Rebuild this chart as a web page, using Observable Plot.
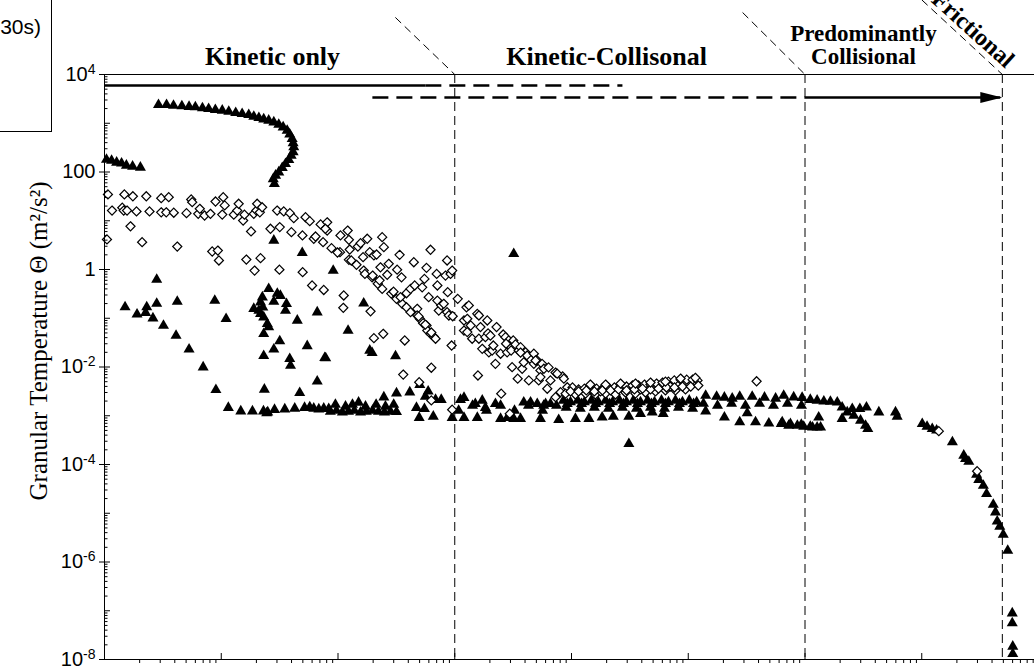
<!DOCTYPE html>
<html>
<head>
<meta charset="utf-8">
<script src="https://cdn.jsdelivr.net/npm/d3@7"></script>
<script src="https://cdn.jsdelivr.net/npm/@observablehq/plot@0.6"></script>
<style>
  html, body { margin: 0; padding: 0; background: #fff; overflow: hidden; }
  #wrap { position: relative; width: 1034px; height: 667px; overflow: hidden; }
  #legendBox { position: absolute; left: -20px; top: -20px; width: 72px; height: 152px;
    box-sizing: border-box; border: 1.5px solid #000; background: #fff; }
  #legendBox span { position: absolute; right: 10px; top: 34px; font: 21px "Liberation Sans", Arial, sans-serif; }
</style>
</head>
<body>
<div id="wrap">
  <div id="legendBox"><span>30s)</span></div>
</div>
<script>
// Granular temperature against solids volume fraction, two symbol series.
// Each entry: [solids volume fraction, granular temperature (m^2/s^2)]

// filled triangles
const triArc = [
  [2.9e-8,2390],[3.4e-8,2390],[3.9e-8,2310],[4.6e-8,2240],[5.3e-8,2180],[6.0e-8,2140],[6.9e-8,2040],
  [7.8e-8,1980],[8.9e-8,1890],[1.02e-7,1830],[1.16e-7,1740],[1.33e-7,1640],[1.51e-7,1560],[1.72e-7,1490],
  [1.90e-7,1370],[2.10e-7,1290],[2.31e-7,1210],[2.55e-7,1140],[2.82e-7,1050],[3.11e-7,940],[3.39e-7,830],
  [3.67e-7,710],[3.86e-7,590],[4.05e-7,480],[4.13e-7,390],[4.18e-7,323],[4.13e-7,255],[3.97e-7,218],
  [3.79e-7,178],[3.55e-7,147],[3.33e-7,122],[3.11e-7,99],[2.92e-7,85],[2.79e-7,72],[2.85e-7,57]
];
const triLeft = [
  [1.04e-8,180],[1.15e-8,172],[1.27e-8,157],[1.40e-8,150],[1.54e-8,136],[1.74e-8,130],[2.03e-8,124]
];
const triScatter = [
  [1.5e-8,0.17],[1.9e-8,0.12],[2.3e-8,0.17],[2.25e-8,0.13],[2.6e-8,0.10],[2.8e-8,0.62],[2.8e-8,0.20],
  [3.2e-8,0.071],[4.2e-8,0.22],[4.1e-8,0.044],[5.3e-8,0.023],[7e-8,0.0099],[9e-8,3.4e-3],[8.8e-8,0.23],
  [1.1e-7,0.097],
  [2.25e-7,0.27],[2.17e-7,0.213],[2.27e-7,0.168],[2.1e-7,0.144],[2.17e-7,0.124],[2.31e-7,0.105],
  [2.48e-7,0.077],[2.55e-7,0.066],[2.31e-7,0.048],[1.9e-7,0.157],[2.55e-7,0.40],[3.02e-7,0.32],
  [3.21e-7,0.29],[2.82e-7,0.22],[3.62e-7,0.198],[3.55e-7,0.144],[4.48e-7,0.090],[3.17e-7,0.034],
  [2.82e-7,0.023],[2.31e-7,0.017],[3.86e-7,0.0147],[3.92e-7,0.0107],[2.34e-7,3.46e-3],[4.7e-7,2.96e-3],
  [5.45e-7,0.027],[6.64e-7,0.133],[7.7e-7,0.0154],[6.64e-7,5.1e-3],[2.82e-7,3.94],[4.94e-7,2.2],
  [9.1e-7,0.95],[1.66e-6,0.203],[1.22e-6,0.056],[7.85e-7,0.0152],[1.87e-6,0.0218],[1.96e-6,0.0196],
  [3.11e-6,0.0167],[3.2e-5,2.1],
  [2.47e-6,2.4e-3],[3.17e-6,2.9e-3],[4.12e-6,3.04e-3],[5.02e-6,4.3e-3],[5.92e-6,3.18e-3],[5.6e-6,2.48e-3],
  [6.85e-6,2.13e-3],[7.66e-6,2.13e-3],[4.96e-6,9.1e-4],[6.55e-6,9.66e-4],[4.7e-6,1.46e-3],[5.5e-6,1.39e-3],
  [9.5e-6,9.1e-4],[1.2e-5,9.1e-4],[1.56e-5,9.1e-4],[1.12e-5,2.13e-3],[1.2e-5,2.34e-3],[1.5e-5,1.76e-3],
  [1.72e-5,2.06e-3],[1.83e-5,1.46e-3],[2.23e-5,1.76e-3],[2.47e-5,8.7e-4],[2.82e-5,9.1e-4],[3.2e-5,8.7e-4],
  [3.66e-5,8.7e-4],[3.9e-5,1.89e-3],[4.46e-5,1.89e-3],[5.09e-5,1.76e-3],[5.42e-5,8.7e-4],[5.78e-5,1.62e-3],
  [6.6e-5,1.76e-3],[3.1e-4,2.66e-4]
];
const triFloor = [
  [1.15e-7,1.46e-3],[1.47e-7,1.24e-3],[1.85e-7,1.24e-3],[2.3e-7,1.24e-3],[2.45e-7,1.13e-3],[2.5e-7,1.18e-3],
  [2.86e-7,1.33e-3],[3.5e-7,1.36e-3],[4.26e-7,1.41e-3],[5.17e-7,1.46e-3],[5.73e-7,1.5e-3],[6.2e-7,1.41e-3],
  [6.85e-7,1.36e-3],[7.55e-7,1.41e-3],[8.33e-7,1.39e-3],
  [8.6e-7,1.22e-3],[9.7e-7,1.28e-3],[1.09e-6,1.17e-3],[1.23e-6,1.22e-3],[1.38e-6,1.28e-3],[1.56e-6,1.17e-3],
  [1.75e-6,1.22e-3],[1.98e-6,1.28e-3],[2.22e-6,1.22e-3],[2.5e-6,1.17e-3],[2.82e-6,1.22e-3],[3.17e-6,1.2e-3],
  [9.5e-7,1.7e-3],[1.16e-6,1.55e-3],[1.33e-6,1.7e-3],[1.5e-6,1.87e-3],[1.72e-6,1.55e-3],[2.12e-6,1.7e-3],
  [2.55e-6,1.55e-3],[3.0e-6,1.7e-3]
];
const triBand = [
  [1.08e-5,1.28e-3],[1.42e-5,1.62e-3],[1.87e-5,1.28e-3],[2.47e-5,1.62e-3],[3.25e-5,1.28e-3],[4.28e-5,1.62e-3],
  [5.65e-5,1.28e-3],[7.44e-5,1.62e-3],
  [8.54e-5,2.06e-3],[9.8e-5,1.9e-3],[1.13e-4,2.06e-3],[1.29e-4,1.9e-3],[1.48e-4,2.06e-3],[1.70e-4,1.9e-3],
  [1.96e-4,2.06e-3],[2.25e-4,1.9e-3],[2.58e-4,2.06e-3],[2.96e-4,1.9e-3],[3.39e-4,2.06e-3],[3.9e-4,1.9e-3],
  [4.48e-4,2.06e-3],[5.14e-4,1.9e-3],[5.9e-4,2.06e-3],[6.77e-4,1.9e-3],[7.77e-4,2.06e-3],[8.92e-4,1.9e-3],
  [1.02e-3,2.06e-3],[1.18e-3,1.9e-3],
  [9.2e-5,1.76e-3],[1.22e-4,1.76e-3],[1.61e-4,1.76e-3],[2.12e-4,1.76e-3],[2.79e-4,1.76e-3],[3.67e-4,1.76e-3],
  [4.84e-4,1.76e-3],[6.38e-4,1.76e-3],[8.41e-4,1.76e-3],[1.11e-3,1.76e-3],
  [9.0e-5,1.48e-3],[1.19e-4,1.4e-3],[1.57e-4,1.48e-3],[2.07e-4,1.4e-3],[2.73e-4,1.48e-3],[3.6e-4,1.4e-3],
  [4.75e-4,1.48e-3],[6.26e-4,1.4e-3],[8.25e-4,1.48e-3],[1.09e-3,1.4e-3],
  [6.0e-5,1.76e-3],[7.77e-5,8.25e-4],[1.08e-4,8.7e-4],[1.41e-4,8.7e-4],[1.83e-4,9.3e-4],[2.28e-4,9.66e-4],
  [3.1e-4,9.66e-4],[3.9e-4,1.10e-3],[4.91e-4,1.18e-3],[6.1e-4,1.10e-3],[1.41e-3,1.24e-3],[2.04e-3,9.3e-4],
  [2.76e-3,7.4e-4],[3.2e-3,1.13e-3],[3.77e-3,7.4e-4],[4.9e-3,7.0e-4],[6.26e-3,6.85e-4],[7.25e-3,6.3e-4],
  [1.41e-3,2.6e-3],[1.75e-3,2.48e-3],[2.04e-3,2.37e-3],[2.38e-3,2.26e-3],[2.76e-3,2.48e-3],[3.53e-3,2.48e-3],
  [4.5e-3,2.37e-3],[5.6e-3,2.26e-3],
  [1.35e-3,1.78e-3],[1.78e-3,1.62e-3],[2.35e-3,1.78e-3],[3.09e-3,1.62e-3],[4.08e-3,1.78e-3],[5.37e-3,1.62e-3],
  [7.08e-3,1.78e-3],[9.33e-3,1.62e-3]
];
const triTail = [
  [6.57e-3,2.6e-3],[8.0e-3,2.4e-3],[9.45e-3,2.34e-3],[1.11e-2,2.13e-3],[1.27e-2,2.06e-3],[1.45e-2,1.98e-3],
  [1.65e-2,1.96e-3],[1.89e-2,1.89e-3],[2.08e-2,1.49e-3],[2.3e-2,1.18e-3],[2.62e-2,1.01e-3],[2.99e-2,8.0e-4],
  [3.3e-2,6.3e-4],[3.45e-2,5.4e-4],[2.54e-2,1.39e-3],[2.95e-2,1.39e-3],[3.36e-2,1.49e-3],[4.29e-2,1.18e-3],
  [5.96e-2,1.18e-3],[6.16e-2,9.66e-4],[6.38e-3,7.4e-4],[7.5e-3,6.85e-4],[8.6e-3,6.3e-4],[9.75e-3,6.0e-4],
  [1.11e-2,6.0e-4],[1.27e-2,5.8e-4],[1.31e-2,9.3e-4],[2.08e-2,8.7e-4],[9.3e-3,6.6e-4],[1.16e-2,5.8e-4],
  [1.36e-2,5.8e-4],
  [1.01e-1,6.85e-4],[1.11e-1,6.0e-4],[1.23e-1,5.4e-4],[1.34e-1,5.0e-4],[1.83e-1,2.87e-4],[2.29e-1,1.53e-4],
  [2.37e-1,1.31e-4],[2.53e-1,1.15e-4],[2.95e-1,6.2e-5],[3.08e-1,4.87e-5],[3.37e-1,3.7e-5],[3.59e-1,2.51e-5],
  [4.1e-1,1.51e-5],[4.28e-1,1.05e-5],[4.43e-1,6.85e-6],[4.66e-1,5.35e-6],[4.99e-1,3.66e-6],[5.45e-1,1.72e-6],
  [5.96e-1,8.9e-8],[5.96e-1,5.56e-8],[6.02e-1,1.85e-8],[6.02e-1,1.31e-8]
];

// open diamonds
const diaLeft = [
  [1.07e-8,34.6],[1.05e-8,4.13],[1.16e-8,16.2],[1.42e-8,18.5],[1.46e-8,16.2],[1.48e-8,34.6],[1.56e-8,16.2],
  [1.75e-8,31.8],[1.67e-8,7.7],[1.88e-8,15.5],[2.1e-8,3.63],[2.28e-8,31.8],[2.43e-8,15.5],[3.06e-8,29],
  [3.06e-8,14.9],[3.38e-8,14.9],[3.55e-8,30.4],[3.92e-8,14.6],[4.2e-8,2.96],[5.04e-8,14.3],[5.53e-8,27.3],
  [5.64e-8,24],[6.35e-8,13.9],[6.55e-8,17.6],[7.2e-8,12.8],[8.08e-8,13.9],[8.37e-8,2.34],[8.93e-8,24.8],
  [9.35e-8,2.45],[9.55e-8,1.53],[1.04e-7,30.4],[1.02e-7,13.4],[1.07e-7,20.6],[1.28e-7,13.3],[1.37e-7,16.2],
  [1.41e-7,22.3],[1.54e-7,10.1],[1.58e-7,13.3],[1.64e-7,1.6],[1.8e-7,6.03],[1.9e-7,13.9],[1.93e-7,0.95],
  [2.0e-7,16.2],[2.03e-7,22.3],[2.14e-7,14.9],[2.24e-7,18.9],[2.17e-7,1.71],[2.64e-7,6.85],[3.01e-7,16.2],
  [3.17e-7,7.4],[3.15e-7,0.99],[3.43e-7,15.5],[3.87e-7,14.3],[3.99e-7,5.83],[4.18e-7,11.3],[4.96e-7,4.99],
  [4.98e-7,0.88],[5.27e-7,11.8],[5.73e-7,9.8],[6.0e-7,0.47],[6.2e-7,4.27],[6.42e-7,4.75],[7.1e-7,8.4],
  [7.45e-7,3.63],[7.55e-7,0.38],[8.08e-7,9.3],[8.08e-7,6.3]
];
const diaMid = [
  [7.8e-7,6.85],[8.8e-7,2.74],[1.05e-6,4.99],[1.04e-6,2.27],[1.21e-6,6.3],[1.24e-6,4.07],[1.24e-6,1.58],
  [1.26e-6,2.57],[1.44e-6,1.25],[1.48e-6,2.96],[1.56e-6,3.46],[1.64e-6,1.79],[1.66e-6,0.95],[1.7e-6,0.81],
  [1.78e-6,4.27],[1.87e-6,2.27],[1.96e-6,0.69],[2.03e-6,1.94],[2.14e-6,2.03],[2.19e-6,0.51],[2.31e-6,1.11],
  [2.39e-6,4.6],[2.47e-6,2.87],[2.39e-6,0.40],[2.64e-6,0.78],[2.72e-6,1.31],[2.86e-6,0.32],[3.21e-6,0.99],
  [3.37e-6,2.0],[3.17e-6,0.25],[3.5e-6,0.69],[3.55e-6,0.198],[3.86e-6,0.168],[3.86e-6,0.326],[4.18e-6,0.133],
  [4.18e-6,0.40],[4.46e-6,1.41],[4.54e-6,0.47],[4.77e-6,0.156],[4.77e-6,0.114],[5.02e-6,0.0975],[5.26e-6,0.43],
  [5.5e-6,0.64],[5.36e-6,0.079],[5.73e-6,0.071],[5.82e-6,0.056],[5.98e-6,0.27],[6.2e-6,2.54],[6.2e-6,0.048],
  [6.6e-6,0.042],[6.85e-6,0.038],[7.0e-6,0.81],[5.73e-6,1.08],[7.1e-6,0.47],[7.1e-6,0.23],[7.3e-6,0.144],
  [7.66e-6,0.183],[8.05e-6,0.198],[8.33e-6,0.75],[8.6e-6,1.53],[8.6e-6,0.133],[8.7e-6,0.342],[8.9e-6,0.114],
  [9.2e-6,0.81],[9.5e-6,0.95],[9.6e-6,0.110],[9.4e-6,0.0276],[6.3e-6,9.66e-3],[3.62e-6,7.0e-3],[4.96e-6,4.87e-3],
  [2.03e-6,0.039],[2.44e-6,0.048],[3.73e-6,0.035],[1.9e-6,0.139],[1.12e-6,0.293],[1.11e-6,0.164],
  [6.3e-6,2.06e-3],[9.5e-6,1.33e-3],
  [9.9e-7,2.23],[1.3e-6,1.53],[1.98e-6,0.75],[2.27e-6,0.60],[2.99e-6,0.35],[3.43e-6,0.27],[4.9e-6,0.109],
  [5.6e-6,0.074],[6.3e-6,0.051]
];
const diaRight = [
  [1.06e-5,0.25],[1.26e-5,0.168],[1.32e-5,0.183],[1.2e-5,0.090],[1.28e-5,0.0975],[1.2e-5,0.056],[1.28e-5,0.052],
  [1.41e-5,0.038],[1.56e-5,0.123],[1.61e-5,0.114],[1.61e-5,0.038],[1.66e-5,0.066],[1.72e-5,0.0236],[1.83e-5,0.041],
  [1.9e-5,0.090],[1.93e-5,0.049],[1.96e-5,0.020],[2.09e-5,0.0218],[2.14e-5,0.0276],[2.23e-5,0.0116],[2.28e-5,0.066],
  [2.47e-5,0.0187],[2.6e-5,0.0464],[2.72e-5,0.041],[2.81e-5,0.020],[2.9e-5,0.035],[3.04e-5,0.0218],[3.1e-5,9.9e-3],
  [3.17e-5,0.035],[3.31e-5,0.029],[3.46e-5,5.75e-3],[3.53e-5,0.0218],[3.66e-5,0.0255],[3.78e-5,9.2e-3],
  [3.9e-5,0.0125],[4.04e-5,0.020],[4.17e-5,0.0172],[4.31e-5,5.3e-3],[4.52e-5,0.014],[4.76e-5,0.0116],
  [4.76e-5,0.0187],[5.08e-5,0.0136],[5.24e-5,5.3e-3],[5.42e-5,8.5e-3],[5.6e-5,0.0116],[5.8e-5,9.2e-3],
  [6.2e-5,3.58e-3],[1.58e-5,6.7e-3],[2.5e-5,2.83e-3],[2.96e-5,1.1e-3],
  [1.37e-5,0.071],[2.02e-5,0.044],[2.75e-5,0.030],[3.66e-5,0.0198],[4.92e-5,0.0136],[6.36e-5,9.8e-3],
  [7.3e-5,7.7e-3],[8.4e-5,6.4e-3],
  [5.42e-5,6.2e-3],[6.6e-5,5.3e-3],[7.54e-5,7.28e-3],[8.6e-5,5.75e-3],[9.2e-5,3.84e-3],[8.06e-5,3.04e-3],
  [7.3e-5,2.4e-3],[8.9e-5,2.83e-3]
];
const diaPlateau = [
  [1.02e-4,3.8e-3],[1.15e-4,3.46e-3],[1.29e-4,3.6e-3],[1.45e-4,3.46e-3],[1.64e-4,3.6e-3],[1.84e-4,3.6e-3],
  [2.07e-4,3.8e-3],[2.33e-4,3.8e-3],[2.63e-4,3.98e-3],[2.96e-4,3.98e-3],[3.33e-4,4.17e-3],[3.75e-4,4.17e-3],
  [4.22e-4,4.37e-3],[4.75e-4,4.37e-3],[5.35e-4,4.58e-3],[6.02e-4,4.8e-3],[6.77e-4,5.0e-3],[7.6e-4,5.3e-3],
  [8.6e-4,5.5e-3],[9.7e-4,5.5e-3],[1.09e-3,5.5e-3],[1.2e-3,5.3e-3],
  [1.08e-4,2.73e-3],[1.32e-4,2.86e-3],[1.6e-4,2.73e-3],[1.96e-4,2.86e-3],[2.38e-4,2.73e-3],[2.9e-4,3.0e-3],
  [3.53e-4,2.86e-3],[4.3e-4,3.0e-3],[5.24e-4,3.15e-3],[6.38e-4,3.3e-3],[7.77e-4,3.3e-3],[9.47e-4,3.46e-3],
  [1.77e-4,3.15e-3],[3.9e-4,3.46e-3],[7.0e-4,3.98e-3],
  [9.8e-5,3.15e-3],[1.15e-4,3.15e-3],[1.34e-4,3.3e-3],[1.57e-4,3.15e-3],[1.84e-4,3.3e-3],[2.16e-4,3.3e-3],
  [2.53e-4,3.46e-3],[2.96e-4,3.3e-3],[3.46e-4,3.46e-3],[4.06e-4,3.6e-3],[4.75e-4,3.46e-3],[5.56e-4,3.6e-3],
  [6.51e-4,3.8e-3],[7.62e-4,3.8e-3],[8.92e-4,3.98e-3],[1.05e-3,3.98e-3],[1.22e-3,4.17e-3],
  [1.45e-4,4.37e-3],[1.96e-4,4.37e-3],[2.63e-4,4.58e-3],[3.53e-4,4.58e-3],[4.75e-4,4.8e-3],[6.38e-4,5.0e-3],
  [8.6e-4,5.8e-3],[1.15e-3,6.0e-3]
];
const diaTail = [[3.85e-3,5.1e-3],[1.4e-1,4.83e-4],[2.98e-1,7.28e-5]];

// regime boundaries (solids volume fraction)
const regimeBounds = [1e-5, 1e-2, 0.49];

// regime names above the frame
const regimeNames = ["Kinetic only", "Kinetic-Collisonal"];
const regimeNameX = [2.75e-7, 2.0e-4];
const subNames = ["Predominantly", "Collisional"];
const subNameY = [7.0e4, 2.3e4];
const frictionalName = "Frictional";

// y tick labels
const yLabelTicks = [1e4, 1e2, 1, 1e-2, 1e-4, 1e-6, 1e-8];
const yLabelText = ["10^4", "100", "1", "10^-2", "10^-4", "10^-6", "10^-8"];
const yTitle = "Granular Temperature \u0398 (m\u00B2/s\u00B2)";

const toRows = (arr) => arr.map(([x, y]) => ({x, y}));
const triangles = toRows([...triArc, ...triLeft, ...triScatter, ...triFloor, ...triBand, ...triTail]);
const diamonds = toRows([...diaLeft, ...diaMid, ...diaRight, ...diaPlateau, ...diaTail]);

// decade and sub-decade tick positions
const decadesX = d3.range(-8, 1).map(k => Math.pow(10, k));
const minorX = d3.range(-8, 0).flatMap(k => d3.range(2, 10).map(m => m * Math.pow(10, k)));
const decadesY = d3.range(-8, 5).map(k => Math.pow(10, k));
const minorY = d3.range(-8, 4).flatMap(k => d3.range(2, 10).map(m => m * Math.pow(10, k)));

// guides drawn in the top margin: the slanted regime separators and the range arrows
const slants = [
  {x1: 3.1e-6, y1: 1.48e5, x2: 1e-5, y2: 1e4},
  {x1: 2.92e-3, y1: 1.87e5, x2: 1e-2, y2: 1e4},
  {x1: 0.1, y1: 3.4e5, x2: 0.49, y2: 1e4}
];
const arrowSolid = [
  {x1: 1e-8, x2: 5.6e-6, y: 5940},
  {x1: 1e-2, x2: 0.47, y: 3370}
];
const arrowDashed = [
  {x1: 5.6e-6, x2: 2.73e-4, y: 5940},
  {x1: 1.97e-6, x2: 1e-2, y: 3370}
];
const arrowHeadAt = [{x: 0.49, y: 3370}];

const headSymbol = {
  draw(ctx) { ctx.moveTo(0, 0); ctx.lineTo(-22, -5.5); ctx.lineTo(-22, 5.5); ctx.closePath(); }
};

const serif = "'Liberation Serif', 'Times New Roman', serif";
const sans = "'Liberation Sans', Arial, sans-serif";
const yLabelMap = new Map(yLabelTicks.map((v, i) => [v, yLabelText[i]]));

const plot = Plot.plot({
  width: 1054,
  height: 700,
  marginLeft: 104,
  marginRight: 16,
  marginTop: 74,
  marginBottom: 41,
  x: {type: "log", domain: [1e-8, 1]},
  y: {type: "log", domain: [1e-8, 1e4]},
  style: {fontFamily: sans, fontSize: "20px", color: "#000", background: "transparent", overflow: "visible", maxWidth: "none"},
  marks: [
    Plot.ruleX(regimeBounds, {stroke: "#000", strokeWidth: 1, strokeDasharray: "9,5"}),
    Plot.link(slants, {x1: "x1", y1: "y1", x2: "x2", y2: "y2", stroke: "#000", strokeWidth: 1, strokeDasharray: "8,5", clip: false}),
    Plot.link(arrowDashed, {x1: "x1", x2: "x2", y1: "y", y2: "y", stroke: "#000", strokeWidth: 2.6, strokeDasharray: "16,8"}),
    Plot.link(arrowSolid, {x1: "x1", x2: "x2", y1: "y", y2: "y", stroke: "#000", strokeWidth: 2.6}),
    Plot.dot(arrowHeadAt, {x: "x", y: "y", symbol: headSymbol, fill: "#000", stroke: "none"}),

    Plot.dot(triangles, {x: "x", y: "y", symbol: "triangle", r: 4.1, fill: "#000", stroke: "none"}),
    Plot.dot(diamonds, {x: "x", y: "y", symbol: d3.symbolDiamond2, r: 4.1, fill: "#fff", stroke: "#000", strokeWidth: 1.2}),

    Plot.frame({stroke: "#000", strokeWidth: 1}),

    // y axis: labelled decades, decade ticks, minor ticks
    Plot.axisY(yLabelTicks, {anchor: "left", tickSize: 5, tickPadding: 4, tickFormat: d => yLabelMap.get(d), fontSize: 20, fontFamily: sans, label: null}),
    Plot.axisY(decadesY, {anchor: "left", tickSize: -6, tickFormat: () => "", label: null}),
    Plot.axisY(minorY, {anchor: "left", tickSize: -3.5, tickFormat: () => "", label: null}),
    // x axis: decade ticks and minor ticks (labels sit below the visible area)
    Plot.axisX(decadesX, {anchor: "bottom", tickSize: -6, tickFormat: () => "", label: null}),
    Plot.axisX(minorX, {anchor: "bottom", tickSize: 4, tickFormat: () => "", label: null}),

    // axis title
    Plot.text([yTitle], {frameAnchor: "left", textAnchor: "middle", dx: -66, dy: -26, rotate: -90, fontFamily: serif, fontSize: 25, fill: "#000"}),

    // regime names
    Plot.text(regimeNames, {x: (d, i) => regimeNameX[i], y: 2.35e4, text: d => d, fontFamily: serif, fontWeight: "bold", fontSize: 26, fill: "#000"}),
    Plot.text(subNames, {x: 3.17e-2, y: (d, i) => subNameY[i], text: d => d, fontFamily: serif, fontWeight: "bold", fontSize: 23, fill: "#000"}),
    Plot.text([frictionalName], {x: 0.275, y: 8.4e4, text: d => d, rotate: 42, fontFamily: serif, fontWeight: "bold", fontSize: 24, fill: "#000"})
  ]
});

// superscript exponents on the y tick labels
d3.select(plot).selectAll('g[aria-label="y-axis tick label"] text').each(function () {
  const t = this.textContent;
  const i = t.indexOf("^");
  if (i < 0) return;
  const sel = d3.select(this);
  sel.text(null);
  sel.append("tspan").text(t.slice(0, i));
  sel.append("tspan").attr("dy", "-0.5em").attr("font-size", "14px").text(t.slice(i + 1));
});

plot.style.position = "absolute";
plot.style.left = "0px";
plot.style.top = "0px";
document.getElementById("wrap").appendChild(plot);
</script>
</body>
</html>
